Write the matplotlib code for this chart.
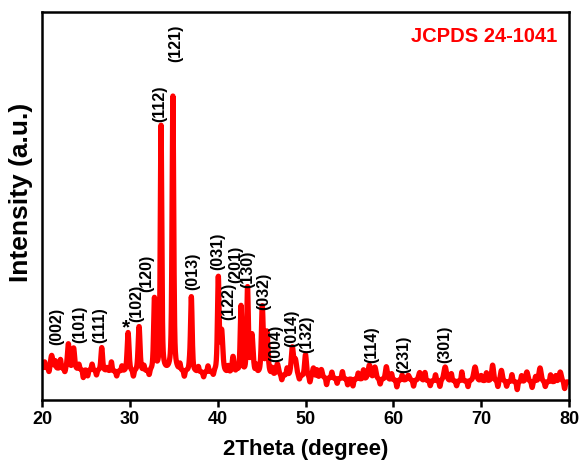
import numpy as np
import matplotlib
matplotlib.use("Agg")
import matplotlib.pyplot as plt

plt.rcParams['font.family'] = ['Liberation Sans', 'DejaVu Sans']
plt.rcParams['font.weight'] = 'bold'

# ---- data ----
# background anchor points (2theta, intensity a.u.)
bg_x = [20, 25, 30, 35, 40, 45, 50, 55, 60, 65, 70, 75, 80]
bg_y = [32, 30, 28, 28, 27, 25, 23, 21, 20, 19, 19, 18, 18]

# diffraction peaks: position, height above background, FWHM
peak_pos = [21.1, 23.0, 23.6, 26.8, 29.8, 31.05, 32.8, 33.55, 34.9, 37.0,
            40.07, 40.45, 41.75, 42.66, 43.4, 43.9, 45.08, 45.6, 46.8, 48.5,
            48.85, 50.0, 50.9, 51.8, 57.27, 57.9, 59.2, 61.7, 63.0, 65.9,
            69.3, 71.3, 72.3, 75.2, 76.7, 79.0]
peak_h = [13, 25, 21, 23, 39, 45, 72, 247, 275, 75,
          94, 40, 16, 67, 85, 38, 67, 42, 11, 28,
          15, 22, 9, 8, 14, 12, 13, 5, 8, 14,
          14, 16, 11, 10, 14, 10]
peak_w = [0.3, 0.25, 0.25, 0.22, 0.25, 0.25, 0.22, 0.2, 0.22, 0.22,
          0.22, 0.3, 0.25, 0.22, 0.22, 0.3, 0.25, 0.3, 0.3, 0.3,
          0.3, 0.25, 0.25, 0.25, 0.35, 0.3, 0.25, 0.3, 0.3, 0.35,
          0.35, 0.25, 0.25, 0.3, 0.3, 0.3]

# small fluctuations of the background
noise_pos = [20.3, 20.8, 21.5, 22.1, 22.6, 24.2, 24.7, 25.2, 25.7, 26.2,
             27.4, 27.9, 28.5, 29.1, 30.4, 31.6, 32.2, 35.7, 36.2, 36.8,
             37.8, 38.4, 38.9, 39.5, 41.2, 42.2, 44.4, 46.2, 47.3, 47.9,
             49.3, 50.5, 51.3, 52.4, 53.0, 53.6, 54.2, 54.8, 55.4, 56.0,
             56.6, 58.5, 59.8, 60.4, 61.0, 62.3, 63.6, 64.2, 64.8, 65.3,
             66.6, 67.2, 67.8, 68.5, 70.0, 70.6, 71.9, 72.9, 73.5, 74.1,
             74.6, 75.8, 76.2, 77.3, 77.9, 78.5, 79.5]
noise_amp = [6, -5, 7, 9, -4, 5, -8, -6, 6, -5,
             3, 9, -5, 5, -6, 5, -5, 6, -6, 4,
             5, -5, 6, -4, 6, 5, 7, 6, -5, 7,
             -4, -6, 7, -7, 6, -5, 7, -6, -7, 6,
             9, -5, 6, -7, 5, -6, 8, -5, 6, -6,
             7, -5, 9, -6, 5, 8, -6, -5, 7, -8,
             6, -6, 5, -5, 7, 6, -7]

xticks = [20, 30, 40, 50, 60, 70, 80]

# reflection labels: text, 2theta position, text bottom (intensity)
hkl = ['(002)', '(101)', '(111)', '(102)', '(120)', '(112)', '(121)', '(013)',
       '(031)', '(122)', '(201)', '(130)', '(032)', '(004)', '(014)', '(132)',
       '(114)', '(231)', '(301)']
hkl_x = [21.67, 24.33, 26.60, 30.82, 31.95, 33.36, 35.26, 37.11,
         39.96, 41.21, 42.10, 43.47, 45.20, 46.64, 48.43, 50.14,
         57.54, 61.22, 65.88]
hkl_y = [55, 57, 57, 78, 108, 278, 338, 110,
         130, 80, 117, 112, 90, 38, 53, 47,
         37, 27, 37]
star_x, star_y = 29.56, 72

# ---- build the pattern from the read values ----
x = np.linspace(20, 80, 3001)
y = np.interp(x, bg_x, bg_y)


def pv(x, c, h, w, eta=0.5):
    g = np.exp(-4 * np.log(2) * ((x - c) / w) ** 2)
    lo = 1.0 / (1 + 4 * ((x - c) / w) ** 2)
    return h * (eta * lo + (1 - eta) * g)


for c, h, w in zip(peak_pos, peak_h, peak_w):
    y = y + pv(x, c, h, w)
for c, h in zip(noise_pos, noise_amp):
    y = y + pv(x, c, h, 0.16, eta=0.2)

# ---- figure ----
fig = plt.figure(figsize=(5.82, 4.63), dpi=100)
ax = fig.add_axes([0.0722, 0.136, 0.9055, 0.838])
ax.plot(x, y, color='#ff0000', lw=3.8, solid_joinstyle='round')
ax.set_xlim(20, 80)
ax.set_ylim(0, 388)
ax.set_xticks(xticks)
ax.set_xticklabels([str(t) for t in xticks], fontsize=13, fontweight='bold')
ax.set_yticks([])
ax.tick_params(axis='x', direction='out', length=5, width=1.8, pad=3)
for s in ax.spines.values():
    s.set_linewidth(1.8)
ax.set_xlabel('2Theta (degree)', fontsize=16, fontweight='bold', labelpad=8)
ax.set_ylabel('Intensity (a.u.)', fontsize=19, fontweight='bold')
ax.yaxis.set_label_coords(-0.017, 0.535)

for t, hx, hy in zip(hkl, hkl_x, hkl_y):
    ax.text(hx, hy, t, rotation=90, ha='center', va='bottom',
            fontsize=11.5, fontweight='bold')
ax.text(star_x, star_y, '*', ha='center', va='center', fontsize=15,
        fontweight='bold')

ax.text(0.977, 0.936, 'JCPDS 24-1041', transform=ax.transAxes, ha='right',
        va='center', color='#ff0000', fontsize=14.5, fontweight='bold')

fig.savefig('out.png', dpi=100)
